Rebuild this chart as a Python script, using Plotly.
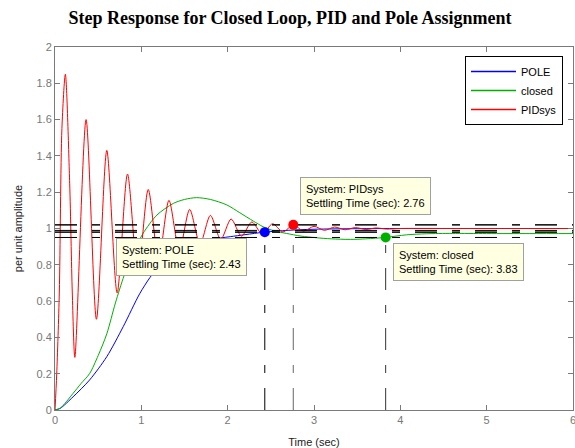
import plotly.graph_objects as go

# ---------------- data ----------------
pole_t = [0, 0.06, 0.21, 0.4, 0.6, 0.79, 0.98, 1.1, 1.2, 1.4, 1.6, 1.8, 2.03, 2.2, 2.43, 2.7, 3.0, 3.5, 4.0, 5.0, 6.0]
pole_v = [0, 0.009, 0.073, 0.165, 0.294, 0.459, 0.64, 0.73, 0.79, 0.87, 0.915, 0.94, 0.955, 0.966, 0.98, 0.99, 0.996, 0.999, 1.0, 1.0, 1.0]

closed_t = [0, 0.06, 0.21, 0.3, 0.4, 0.5, 0.6, 0.7, 0.8, 0.9, 1.02, 1.18, 1.37, 1.5, 1.64, 1.8, 1.99, 2.14, 2.3,
            2.41, 2.55, 2.68, 2.85, 3.03, 3.2, 3.42, 3.6, 3.83, 4.07, 4.3, 4.6, 5.0, 5.5, 6.0]
closed_v = [0, 0.01, 0.092, 0.145, 0.20, 0.30, 0.42, 0.59, 0.74, 0.86, 0.973, 1.074, 1.138, 1.16, 1.17, 1.16, 1.13, 1.087, 1.04,
            1.01, 0.985, 0.973, 0.958, 0.949, 0.943, 0.94, 0.943, 0.951, 0.965, 0.971, 0.973, 0.972, 0.972, 0.972]

pid_t = [0, 0.02, 0.05, 0.08, 0.12, 0.17, 0.20, 0.23, 0.36, 0.48, 0.60, 0.72, 0.84, 0.96, 1.08, 1.20, 1.32, 1.44,
         1.56, 1.68, 1.80, 1.92, 2.04, 2.16, 2.28, 2.40, 2.52, 2.64, 2.76, 2.88, 3.00, 3.12, 3.24, 3.36, 3.48,
         3.60, 3.72, 3.84, 4.00, 4.5, 5.0, 5.5, 6.0]
pid_v = [0, 0.2, 0.65, 1.55, 1.85, 1.25, 0.65, 0.29, 1.60, 0.50, 1.43, 0.645, 1.30, 0.75, 1.215, 0.83, 1.155, 0.88,
         1.105, 0.915, 1.072, 0.94, 1.052, 0.958, 1.036, 0.97, 1.026, 0.981, 1.02, 0.986, 1.012, 0.99, 1.008, 0.993, 1.005,
         0.995, 1.003, 0.997, 1.0, 1.0, 1.0, 1.0, 1.0]

systems = ["POLE", "closed", "PIDsys"]
sys_colors = ["#0000FF", "#00B000", "#FF0000"]
settle_time = [2.43, 3.83, 2.76]
settle_value = [0.98, 0.951, 1.02]
band_upper = [1.02, 0.9894, 1.02]
band_lower = [0.98, 0.9506, 0.98]
vline_colors = ["#000000", "#333333", "#666666"]
x_span = [0, 6]

tip_x = [0.707, 3.917, 2.839]
tip_y = [0.948, 0.920, 1.284]

x_ticks = [0, 1, 2, 3, 4, 5, 6]
y_ticks = [0, 0.2, 0.4, 0.6, 0.8, 1, 1.2, 1.4, 1.6, 1.8, 2]

FONT = "Liberation Sans, Arial, sans-serif"
DASH = "22px,15px,8px,15px"

W, H = 575, 448

fig = go.Figure()

series = [(pole_t, pole_v), (closed_t, closed_v), (pid_t, pid_v)]
for name, col, (tt, vv) in zip(systems, sys_colors, series):
    fig.add_trace(go.Scatter(x=tt, y=vv, mode="lines", name=name, showlegend=False,
                             line=dict(color=col, width=1, shape="spline", smoothing=0.8)))

# settling bands
for up, lo in zip(band_upper, band_lower):
    for lev in (up, lo):
        fig.add_trace(go.Scatter(x=x_span, y=[lev, lev], mode="lines", showlegend=False, hoverinfo="skip",
                                 line=dict(color="#000000", width=1, dash=DASH)))

# vertical settling lines
for st, sv, vc in zip(settle_time, settle_value, vline_colors):
    fig.add_trace(go.Scatter(x=[st, st], y=[0, sv], mode="lines", showlegend=False, hoverinfo="skip",
                             line=dict(color=vc, width=1, dash=DASH)))

# markers
for st, sv, col in zip(settle_time, settle_value, sys_colors):
    fig.add_trace(go.Scatter(x=[st], y=[sv], mode="markers", showlegend=False, hoverinfo="skip",
                             marker=dict(color=col, size=10, line=dict(width=0))))

# legend entries
for name, col in zip(systems, sys_colors):
    fig.add_trace(go.Scatter(x=[None], y=[None], mode="lines", name=name, showlegend=True,
                             line=dict(color=col, width=1.5)))

# data tips
for name, st, tx, ty in zip(systems, settle_time, tip_x, tip_y):
    fig.add_annotation(x=tx, y=ty, xref="x", yref="y", xanchor="left", yanchor="top",
                       text=f"System: {name}<br>Settling Time (sec): {st:.2f}",
                       showarrow=False, align="left", valign="middle",
                       font=dict(family=FONT, size=11, color="#000000"),
                       bgcolor="#FFFFE1", bordercolor="#A0A0A0", borderwidth=1, borderpad=5)

axis_common = dict(showline=True, linecolor="#7a7a7a", linewidth=1, mirror="ticks",
                   ticks="inside", ticklen=5, tickcolor="#7a7a7a", showgrid=False, zeroline=False,
                   ticklabeloverflow="allow",
                   tickfont=dict(family=FONT, size=11, color="#777777"))

fig.update_layout(
    width=W, height=H,
    margin=dict(l=55, r=2, t=47, b=38),
    paper_bgcolor="white", plot_bgcolor="white",
    title=dict(text="<b>Step Response for Closed Loop, PID and Pole Assignment</b>",
               x=290 / W, xref="container", xanchor="center",
               y=1 - 18 / H, yref="container", yanchor="middle",
               font=dict(family="Liberation Serif, Times New Roman, serif", size=18, color="#000000")),
    xaxis=dict(range=[0, 6], tickvals=x_ticks, automargin=False,
               title=dict(text="Time (sec)", font=dict(family=FONT, size=11, color="#222222"), standoff=13),
               **axis_common),
    yaxis=dict(range=[0, 2], tickvals=y_ticks, automargin=False,
               title=dict(text="per unit amplitude", font=dict(family=FONT, size=11, color="#222222"), standoff=11),
               **axis_common),
    legend=dict(x=(465 - 55) / 518, y=(410 - 56) / 363, xanchor="left", yanchor="top",
                bgcolor="white", bordercolor="#000000", borderwidth=1,
                font=dict(family=FONT, size=11, color="#000000"), itemwidth=45,
                tracegroupgap=0),
    showlegend=True,
)

fig.write_html(
    "out.html",
    config={"displayModeBar": False},
    post_script=(
        "document.documentElement.style.margin='0';document.documentElement.style.padding='0';"
        "document.documentElement.style.overflow='hidden';"
        "document.body.style.margin='0';document.body.style.padding='0';document.body.style.overflow='hidden';"
    ),
)
